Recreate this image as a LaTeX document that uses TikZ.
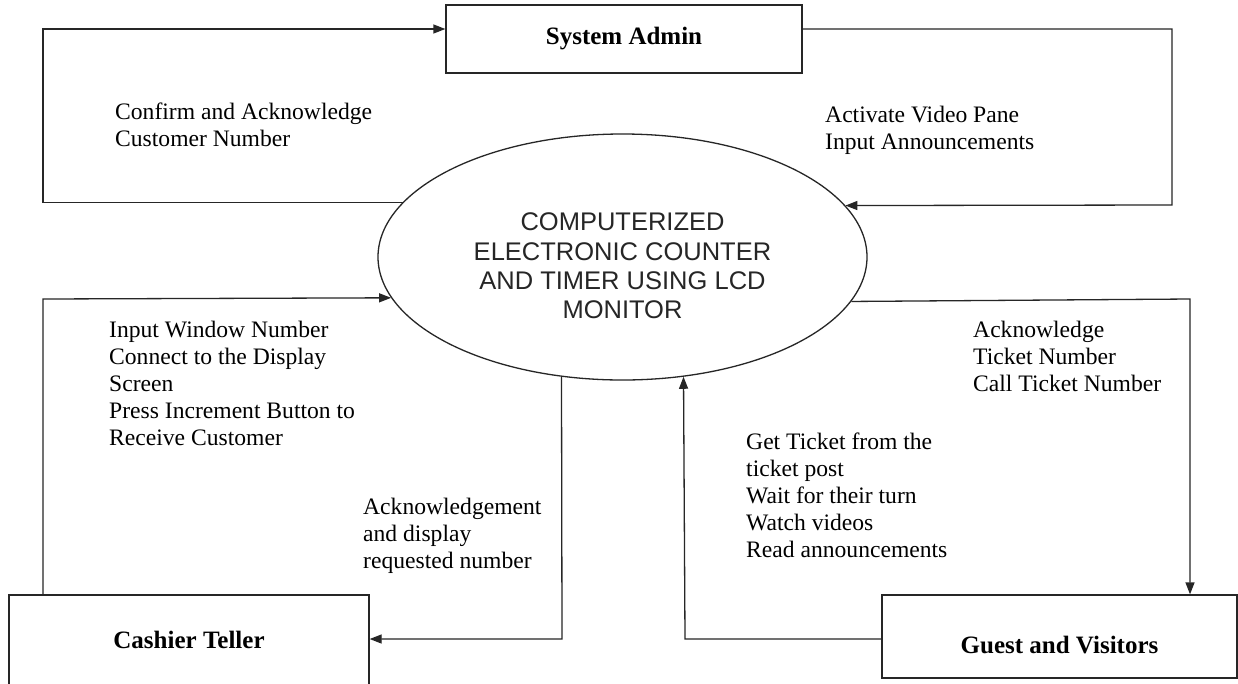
\documentclass[tikz,border=0pt]{standalone}
\usepackage{fontspec}
\setmainfont{Liberation Serif}
\newfontfamily\arialf{Liberation Sans}
\usetikzlibrary{shapes.geometric,arrows.meta}
\begin{document}
\begin{tikzpicture}[x=1pt,y=-1pt,
  conn/.style={line width=1.3pt, draw=black!85},
  arr/.style={conn,-{Triangle[length=12pt,width=9pt]}},
  ent/.style={draw=black!85, line width=1.3pt, rectangle, inner sep=0pt, font=\fontsize{25}{29}\selectfont\bfseries},
  lbl/.style={anchor=north west, align=left, inner sep=0pt, font=\fontsize{23.6}{27}\selectfont},
]
\useasboundingbox (0,0) rectangle (1238,683);
\fill[white] (0,0) rectangle (1238,683);
\node[ent, minimum width=356pt, minimum height=68pt] (admin) at (624,39) {System Admin};
\node[ent, minimum width=360pt, minimum height=90pt] (cash) at (189,640) {Cashier Teller};
\node[ent, minimum width=355pt, minimum height=83pt, text height=33pt, text depth=0pt] (guest) at (1059.5,636.5) {Guest and Visitors};
\node[draw=black!85, ellipse, line width=1.3pt, minimum width=489pt, minimum height=246pt, inner sep=0pt] (sys) at (622.5,257) {};
\node[font=\arialf\fontsize{25.5}{29.3}\selectfont, align=center, inner sep=0pt, text=black!85] (systxt) at (622.5,266) {COMPUTERIZED\\ELECTRONIC COUNTER\\AND TIMER USING LCD\\MONITOR};

\coordinate (k1) at (43,29);
\coordinate (k2) at (1172,205);
\coordinate (k3) at (43,299);
\coordinate (k4) at (562,639);
\coordinate (k5) at (685,639);
\coordinate (k6) at (1190,299);

\draw[arr] (sys.166.19) -| (k1) -- (admin.west |- k1);
\draw[arr] (admin.east |- k1) -| (k2) -- (sys.13.21);
\draw[arr] (cash.north -| k3) -- (k3) -- (sys.190.36);
\draw[arr] (sys.243.09) -- (k4) -- (cash.east |- k4);
\draw[arr] (guest.west |- k5) -- (k5) -- (sys.297.73);
\draw[arr] (sys.349.64) -- (k6) -- (guest.north -| k6);

\node[lbl] (t1) at (115,103) {Confirm and Acknowledge\\Customer Number};
\node[lbl] (t2) at (825,106) {Activate Video Pane\\Input Announcements};
\node[lbl] (t3) at (109,321) {Input Window Number\\Connect to the Display\\Screen\\Press Increment Button to\\Receive Customer};
\node[lbl] (t4) at (363,498) {Acknowledgement\\and display\\requested number};
\node[lbl] (t5) at (746,433) {Get Ticket from the\\ticket post\\Wait for their turn\\Watch videos\\Read announcements};
\node[lbl] (t6) at (973,321) {Acknowledge\\Ticket Number\\Call Ticket Number};
\end{tikzpicture}
\end{document}
